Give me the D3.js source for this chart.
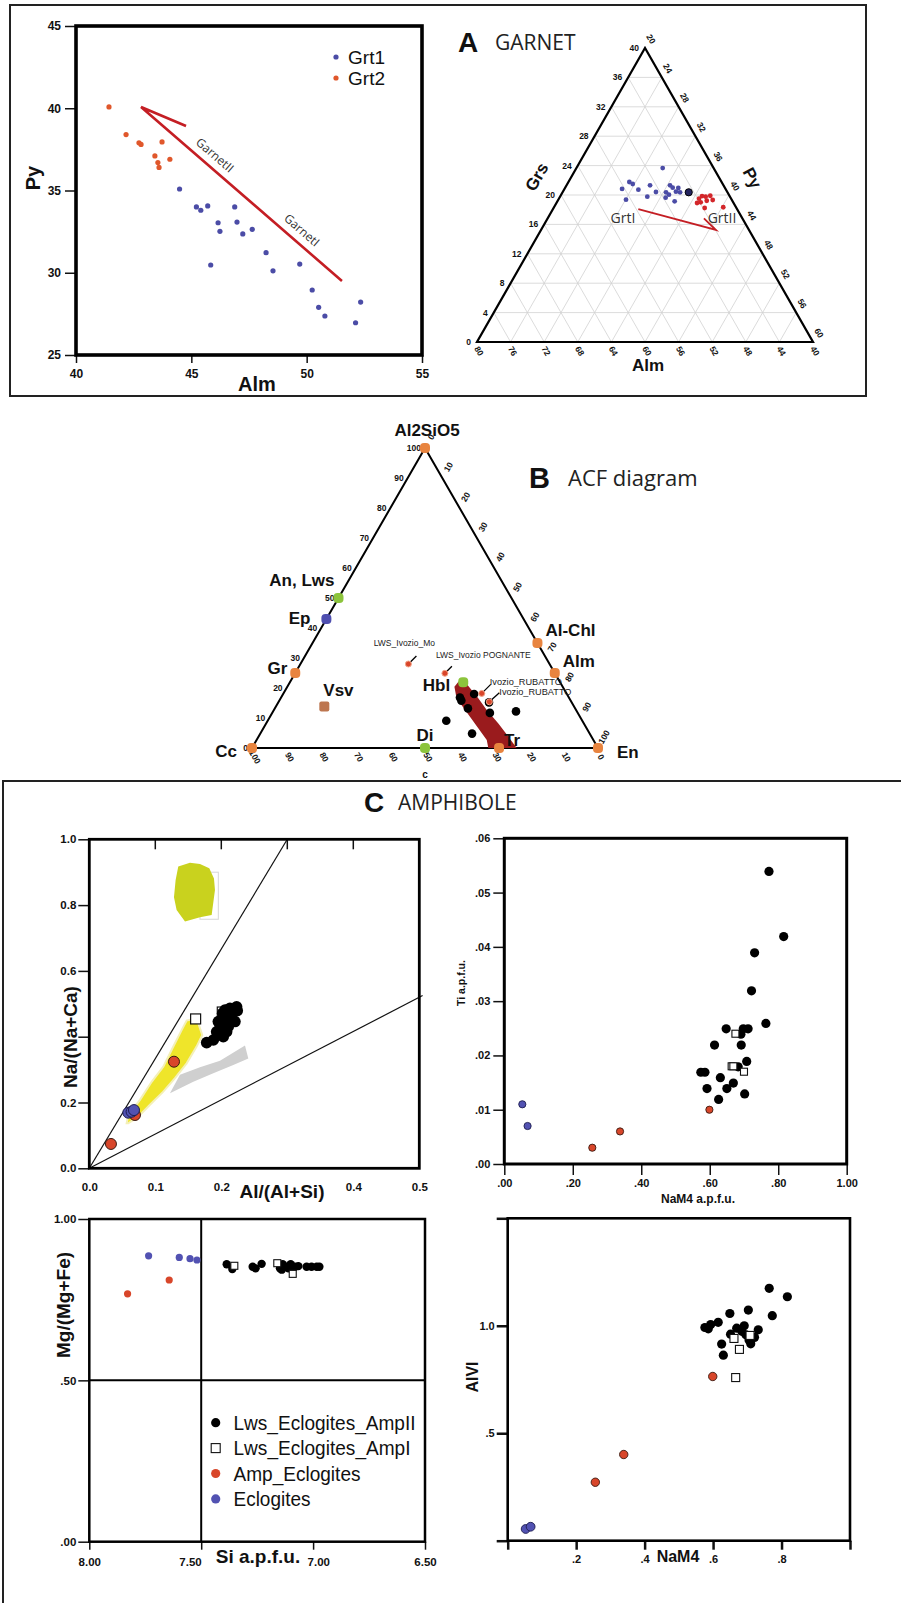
<!DOCTYPE html>
<html><head><meta charset="utf-8">
<script src="https://cdn.jsdelivr.net/npm/d3@7"></script>
<style>body{margin:0;background:#fff}svg{display:block}</style>
</head><body>
<script>
// ---------- DATA ----------
// Panel A left: Alm vs Py
const grt1 = [[44.49,35.09],[45.22,34.0],[45.41,33.8],[45.71,34.06],[45.84,30.47],[46.16,33.04],[46.24,32.52],[46.88,34.0],[46.98,33.08],[47.23,32.36],[47.64,32.64],[48.24,31.22],[48.54,30.12],[49.7,30.53],[50.24,28.95],[50.52,27.9],[50.79,27.37],[52.12,26.96],[52.34,28.22]];
const grt2 = [[41.43,40.08],[42.17,38.4],[42.73,37.9],[42.82,37.8],[43.73,37.95],[43.42,37.1],[43.55,36.7],[43.6,36.4],[44.07,36.9]];
const trendLine = [[51.53,29.5],[42.82,40.08],[44.77,38.92]];
const trendLabels = ["GarnetII","GarnetI"];
const trendLabelAt = [[46.03,37.16],[49.8,32.6]];
const garnetXTicks = [40,45,50,55];
const garnetYTicks = [25,30,35,40,45];
const garnetLegend = ["Grt1","Grt2"];
// Panel A ternary: [Grs, Py]  (Alm = 100 - Grs - Py)
const ternGrt1 = [[20.82,26.86],[21.77,27.25],[21.5,27.79],[20.72,28.85],[19.36,28.06],[21.32,29.94],[20.41,31.1],[19.77,30.39],[23.67,30.27],[21.32,32.32],[20.99,32.8],[20.95,33.49],[20.37,32.32],[20.04,32.83],[19.63,32.64],[20.37,33.99],[19.14,33.96],[20.45,33.46]];
const ternMean = [[20.37,35.02]];
const ternGrt2 = [[19.5,36.68],[19.0,37.13],[19.77,37.34],[19.22,37.74],[19.9,37.82],[19.32,38.4],[18.23,37.99],[18.33,40.15],[18.91,36.74],[19.86,36.86]];
const ternArrow = [[18.09,30.16],[15.24,40.83],[16.83,38.6]];
const ternLabels = [["GrtI",16.87,28.94],["GrtII",16.87,40.73]];
const grsTicks = [0,4,8,12,16,20,24,28,32,36,40];
const pyTicks = [20,24,28,32,36,40,44,48,52,56,60];
const almTicks = [80,76,72,68,64,60,56,52,48,44,40];
// Panel B ACF: [label, A, F, colour key]
const acfMinerals = [["Al2SiO5",100,0,"o"],["An, Lws",50,0,"g"],["Ep",43,0,"b"],["Gr",25,0,"o"],["Vsv",13.8,14,"br"],["Cc",0,0,"o"],["Di",0,50,"g"],["Tr",0,71.4,"o"],["En",0,100,"o"],["Al-Chl",35,65,"o"],["Alm",25,75,"o"],["Hbl",21.9,50.1,"g"]];
const acfSamples = [["LWS_Ivozio_Mo",28,31.2],["LWS_Ivozio POGNANTE",24.9,43.3],["Ivozio_RUBATTO",18.2,57.3],["Ivozio_RUBATTO",15.4,60.9]];
const acfBlack = [[18.0,55.2],[16.8,51.7],[15.8,52.6],[13.2,55.8],[15.2,60.9],[11.7,62.9],[12.2,70.2],[9.1,51.6],[4.8,61.2]];
const acfBand = [[20.4,48.3],[22.1,48.6],[22.1,50.5],[19.9,53.1],[16.6,57.1],[12.7,61.5],[8.2,67.1],[4.3,71.6],[0,76.5],[0,68.3],[2.7,66.5],[6.6,62.1],[10.4,57.8],[14.3,53.4],[17.7,50.1]];
const acfTicks = [0,10,20,30,40,50,60,70,80,90,100];
// Panel C1: Al/(Al+Si) vs Na/(Na+Ca)
const c1Black = [[.1778,.382],[.1879,.390],[.1955,.446],[.198,.4255],[.2005,.410],[.202,.471],[.2056,.481],[.2081,.451],[.2106,.431],[.2131,.471],[.2157,.456],[.2182,.481],[.2207,.446],[.2232,.491],[.2242,.479],[.203,.400],[.1929,.415],[.2081,.415],[.2131,.486],[.198,.446]];
const c1Open = [[.1611,.454],[.2015,.475]];
const c1Red = [[.0328,.074],[.1283,.324],[.0692,.162]];
const c1Blue = [[.0591,.169],[.0641,.172],[.0677,.177]];
const c1Green = [[.1348,.917],[.1525,.929],[.1677,.925],[.1818,.912],[.1889,.881],[.1904,.846],[.1854,.770],[.1677,.763],[.145,.750],[.1323,.785],[.1283,.824],[.1308,.876]];
const c1GreenBox = [[.1677,.900],[.1955,.757]];
const c1Yellow = [[.0566,.137],[.0591,.162],[.0768,.208],[.0945,.263],[.1121,.309],[.1273,.370],[.1399,.420],[.1475,.449],[.1626,.456],[.1712,.405],[.1626,.370],[.1475,.319],[.1298,.274],[.1121,.233],[.0919,.193],[.0742,.157],[.0591,.137]];
const c1Gray = [[.1222,.228],[.1374,.284],[.1677,.307],[.198,.327],[.2359,.373],[.2409,.334],[.2182,.314],[.1879,.289],[.1576,.263],[.1323,.238]];
const c1Lines = [[[0,0],[0.3,1.0]],[[0,0],[0.505,0.525]]];
const c1XTicks = [0,0.1,0.2,0.3,0.4,0.5], c1XLabels = ["0.0","0.1","0.2","","0.4","0.5"];
const c1YTicks = [0,0.2,0.4,0.6,0.8,1.0], c1YLabels = ["0.0","0.2","","0.6","0.8","1.0"];
// Panel C2: NaM4 vs Ti
const c2Black = [[.773,.0539],[.816,.0419],[.731,.0389],[.722,.0319],[.764,.0259],[.648,.0249],[.698,.0249],[.712,.0249],[.691,.0239],[.614,.0219],[.692,.0219],[.574,.0169],[.586,.0169],[.708,.0189],[.683,.0179],[.631,.0159],[.592,.0139],[.650,.0139],[.669,.0149],[.626,.0119],[.702,.0129]];
const c2Open = [[.675,.024],[.664,.018],[.669,.018],[.700,.017]];
const c2Red = [[.257,.003],[.338,.006],[.599,.010]];
const c2Blue = [[.0526,.011],[.068,.007]];
const c2XTicks = [0,.2,.4,.6,.8,1], c2XLabels = [".00",".20",".40",".60",".80","1.00"];
const c2YTicks = [0,.01,.02,.03,.04,.05,.06], c2YLabels = [".00",".01",".02",".03",".04",".05",".06"];
// Panel C3: Si vs Mg/(Mg+Fe)
const c3Black = [[7.386,.860],[7.361,.845],[7.27,.852],[7.257,.847],[7.23,.861],[7.148,.847],[7.136,.860],[7.118,.852],[7.1,.860],[7.081,.852],[7.066,.854],[7.029,.852],[7.007,.852],[6.984,.852],[6.972,.852],[7.14,.843],[7.11,.847],[7.09,.847]];
const c3Open = [[7.352,.855],[7.16,.863],[7.091,.830]];
const c3Red = [[7.829,.768],[7.643,.811]];
const c3Blue = [[7.735,.886],[7.598,.881],[7.55,.877],[7.519,.873]];
const c3XTicks = [8,7.5,7,6.5], c3XLabels = ["8.00","7.50","7.00","6.50"];
const c3YTicks = [0,.5,1], c3YLabels = [".00",".50","1.00"];
const ampLegend = ["Lws_Eclogites_AmpII","Lws_Eclogites_AmpI","Amp_Eclogites","Eclogites"];
// Panel C4: NaM4 vs AlVI
const c4Black = [[.764,1.174],[.817,1.135],[.703,1.073],[.649,1.057],[.773,1.047],[.615,1.016],[.593,1.006],[.576,.992],[.586,.986],[.669,.989],[.691,1.0],[.732,.981],[.684,.974],[.651,.961],[.696,.958],[.721,.946],[.705,.934],[.710,.916],[.625,.915],[.630,.863]];
const c4Open = [[.666,.759],[.677,.890],[.661,.941],[.708,.955]];
const c4Red = [[.256,.272],[.339,.401],[.599,.764]];
const c4Blue = [[.0525,.0545],[.067,.065]];
const c4XTicks = [0,.2,.4,.6,.8,1], c4XLabels = ["",".2",".4",".6",".8",""];
const c4YTicks = [0,.5,1,1.5], c4YLabels = ["",".5","1.0",""];

// ---------- STYLE ----------
const SANS = '"Liberation Sans", Arial, Helvetica, sans-serif';
const OPEN = '"Open Sans", "Liberation Sans", sans-serif';
const COL = {blueA:"#4b4ca6", orangeA:"#e0572b", redT:"#d3262a", line:"#c41e24",
  o:"#e8843f", g:"#8cc43c", b:"#4f4fb0", br:"#bd7650", band:"#9a1b1d",
  ampRed:"#d8462a", ampBlue:"#5252b2"};

const svg = d3.select("body").append("svg").attr("width",901).attr("height",1603);

function txt(g,x,y,s,o={}){
  const t=g.append("text").attr("x",x).attr("y",y).text(s)
    .attr("font-family",o.ff||SANS).attr("font-size",o.fs||12)
    .attr("font-weight",o.fw||"normal").attr("fill",o.fill||"#111")
    .attr("text-anchor",o.anchor||"start");
  if(o.rot!=null) t.attr("transform",`rotate(${o.rot},${x},${y})`);
  if(o.db) t.attr("dominant-baseline",o.db);
  if(o.len) t.attr("textLength",o.len).attr("lengthAdjust","spacingAndGlyphs");
  return t;
}
function styleAxis(g,fs,sw){
  g.select(".domain").remove();
  g.selectAll(".tick line").attr("stroke","#111").attr("stroke-width",sw||1.5);
  g.selectAll(".tick text").attr("font-family",SANS).attr("font-size",fs).attr("font-weight","bold").attr("fill","#111");
}
function dots(g,data,xs,ys,r,fill,stroke,sw){
  g.selectAll(null).data(data).join("circle")
    .attr("cx",d=>xs(d[0])).attr("cy",d=>ys(d[1])).attr("r",r)
    .attr("fill",fill).attr("stroke",stroke||"none").attr("stroke-width",sw||0);
}
function squares(g,data,xs,ys,s,sw){
  g.selectAll(null).data(data).join("rect")
    .attr("x",d=>xs(d[0])-s/2).attr("y",d=>ys(d[1])-s/2).attr("width",s).attr("height",s)
    .attr("fill","#fff").attr("stroke","#111").attr("stroke-width",sw||1.1);
}

// ---------- SECTION FRAMES ----------
svg.append("rect").attr("x",10).attr("y",5).attr("width",856).attr("height",391)
  .attr("fill","none").attr("stroke","#222").attr("stroke-width",2);
svg.append("path").attr("d","M3,1610 V781 H910").attr("fill","none").attr("stroke","#222").attr("stroke-width",2);

// ---------- PANEL A: scatter ----------
{
  const ax=d3.scaleLinear().domain([40,55]).range([76,422]);
  const ay=d3.scaleLinear().domain([25,45]).range([355,26]);
  const g=svg.append("g");
  g.append("g").attr("transform",`translate(${ax(40)},0)`)
    .call(d3.axisLeft(ay).tickValues(garnetYTicks).tickSize(11).tickPadding(4)).call(a=>styleAxis(a,12,1.5));
  g.append("g").attr("transform",`translate(0,${ay(25)})`)
    .call(d3.axisBottom(ax).tickValues(garnetXTicks).tickSize(8).tickPadding(6)).call(a=>styleAxis(a,12,1.5));
  g.append("path").attr("d",d3.line().x(d=>ax(d[0])).y(d=>ay(d[1]))(trendLine))
    .attr("fill","none").attr("stroke",COL.line).attr("stroke-width",2.6).attr("stroke-linejoin","miter");
  const ang=Math.atan2(ay(trendLine[0][1])-ay(trendLine[1][1]),ax(trendLine[0][0])-ax(trendLine[1][0]))*180/Math.PI;
  trendLabels.forEach((s,i)=>txt(g,ax(trendLabelAt[i][0]),ay(trendLabelAt[i][1]),s,{ff:OPEN,fs:12,anchor:"middle",db:"central",rot:ang,fill:"#333"}));
  dots(g,grt2,ax,ay,2.6,COL.orangeA);
  dots(g,grt1,ax,ay,2.6,COL.blueA);
  g.append("rect").attr("x",ax(40)).attr("y",ay(45)).attr("width",ax(55)-ax(40)).attr("height",ay(25)-ay(45))
    .attr("fill","none").attr("stroke","#000").attr("stroke-width",3.6);
  [COL.blueA,COL.orangeA].forEach((c,i)=>{
    g.append("circle").attr("cx",336).attr("cy",57+i*21).attr("r",2.6).attr("fill",c);
    txt(g,348,64+i*21,garnetLegend[i],{fs:19,len:37});
  });
  txt(g,40,178,"Py",{fs:20,fw:"bold",anchor:"middle",rot:-90});
  txt(g,257,391,"Alm",{fs:20,fw:"bold",anchor:"middle"});
}

// ---------- PANEL A: ternary ----------
{
  const gx=d3.scaleLinear().domain([0,1]).range([477,813]);
  const gy=d3.scaleLinear().domain([0,1]).range([342,48]);
  const P=(grs,py)=>{const wa=grs/40, wr=(py-20)/40; return [gx(wr+wa/2),gy(wa)];};
  const g=svg.append("g");
  const grid=g.append("g").attr("stroke","#d2d2d2").attr("stroke-width",0.8);
  for(let k=1;k<10;k++){
    const v=4*k;
    [[P(v,20),P(v,60-v)],[P(0,20+v),P(40-v,20+v)],[P(0,60-v),P(40-v,20)]].forEach(s=>
      grid.append("line").attr("x1",s[0][0]).attr("y1",s[0][1]).attr("x2",s[1][0]).attr("y2",s[1][1]));
  }
  const tri=[P(0,20),P(0,60),P(40,20)];
  g.append("path").attr("d","M"+tri.join("L")+"Z").attr("fill","none").attr("stroke","#000").attr("stroke-width",2.2);
  grsTicks.forEach(v=>{const p=P(v,20); txt(g,p[0]-6,p[1]+3,v,{fs:8.5,fw:"bold",anchor:"end"});});
  pyTicks.forEach(v=>{const p=P(60-v,v); txt(g,p[0]+6,p[1]-9,v,{fs:8.5,fw:"bold",anchor:"middle",db:"central",rot:60});});
  almTicks.forEach(v=>{const p=P(0,100-v); txt(g,p[0]+2,p[1]+9,v,{fs:8.5,fw:"bold",anchor:"middle",db:"central",rot:60});});
  g.append("path").attr("d",d3.line().x(d=>P(d[0],d[1])[0]).y(d=>P(d[0],d[1])[1])(ternArrow))
    .attr("fill","none").attr("stroke",COL.line).attr("stroke-width",1.8);
  const gxs=d=>P(d[0],d[1])[0], gys=d=>P(d[0],d[1])[1];
  g.selectAll(null).data(ternGrt1).join("circle").attr("cx",gxs).attr("cy",gys).attr("r",2.4).attr("fill",COL.blueA);
  g.selectAll(null).data(ternGrt2).join("circle").attr("cx",gxs).attr("cy",gys).attr("r",2.4).attr("fill",COL.redT);
  g.selectAll(null).data(ternMean).join("circle").attr("cx",gxs).attr("cy",gys).attr("r",3.6).attr("fill","#23235e").attr("stroke","#000").attr("stroke-width",1);
  ternLabels.forEach(l=>{const p=P(l[1],l[2]); txt(g,p[0],p[1]+5,l[0],{ff:OPEN,fs:14,anchor:"middle",fill:"#333"});});
  txt(g,537,177,"Grs",{fs:17,fw:"bold",anchor:"middle",db:"central",rot:-60});
  txt(g,752,178,"Py",{fs:17,fw:"bold",anchor:"middle",db:"central",rot:62});
  txt(g,648,371,"Alm",{fs:17,fw:"bold",anchor:"middle"});
  txt(g,458,52,"A",{fs:28,fw:"bold"});
  txt(g,495,50,"GARNET",{ff:OPEN,fs:21,fill:"#222"});
}

// ---------- PANEL B: ACF ----------
{
  const bx=d3.scaleLinear().domain([0,1]).range([252,598]);
  const by=d3.scaleLinear().domain([0,1]).range([748,448]);
  const P=(A,F)=>[bx(F/100+A/200),by(A/100)];
  const g=svg.append("g");
  const tri=[P(0,0),P(0,100),P(100,0)];
  g.append("path").attr("d","M"+tri.join("L")+"Z").attr("fill","none").attr("stroke","#000").attr("stroke-width",2);
  acfTicks.forEach(v=>{
    let p=P(v,0); txt(g,p[0]-4,p[1]+3,v,{fs:8.5,fw:"bold",anchor:"end"});
    p=P(100-v,v); txt(g,p[0]+6,p[1]-11,v,{fs:8.5,fw:"bold",anchor:"middle",db:"central",rot:-60});
    p=P(0,100-v); txt(g,p[0]+3,p[1]+9,v,{fs:8.5,fw:"bold",anchor:"middle",db:"central",rot:60});
  });
  txt(g,425,778,"c",{fs:10,fw:"bold",anchor:"middle"});
  g.append("path").attr("d","M"+acfBand.map(d=>P(d[0],d[1])).join("L")+"Z").attr("fill",COL.band);
  g.selectAll(null).data(acfBlack).join("circle").attr("cx",d=>P(d[0],d[1])[0]).attr("cy",d=>P(d[0],d[1])[1]).attr("r",4.3).attr("fill","#000");
  const labPos={"Al2SiO5":[2,-12,"middle"],"An, Lws":[-4,-12,"end"],"Ep":[-16,5,"end"],"Gr":[-8,1,"end"],"Vsv":[-1,-11,"start"],
    "Cc":[-15,9,"end"],"Di":[0,-7,"middle"],"Tr":[5,-2,"start"],"En":[19,10,"start"],"Al-Chl":[8,-7,"start"],"Alm":[8,-6,"start"],"Hbl":[-13,9,"end"]};
  acfMinerals.forEach(m=>{
    const p=P(m[1],m[2]);
    g.append("rect").attr("x",p[0]-5).attr("y",p[1]-5).attr("width",10).attr("height",10).attr("rx",m[3]==="br"?2:4)
      .attr("fill",COL[m[3]]);
    const l=labPos[m[0]];
    txt(g,p[0]+l[0],p[1]+l[1],m[0],{fs:17,fw:"bold",anchor:l[2]});
  });
  const sampLab=[[8,-8,-4,-18],[7,-7,-9,-15],[9,-9,8,-8],[10,-9,10,-7]];
  acfSamples.forEach((s,i)=>{
    const p=P(s[1],s[2]); const o=sampLab[i];
    g.append("line").attr("x1",p[0]).attr("y1",p[1]).attr("x2",p[0]+o[0]).attr("y2",p[1]+o[1]).attr("stroke","#000").attr("stroke-width",1.3);
    g.append("circle").attr("cx",p[0]).attr("cy",p[1]).attr("r",3).attr("fill","#d9452a").attr("stroke","#f2a68a").attr("stroke-width",1);
    txt(g,p[0]+o[2],p[1]+o[3],s[0],{fs:i<2?8.5:9.2,anchor:i===0?"middle":"start",fill:"#222"});
  });
  txt(g,529,488,"B",{fs:29,fw:"bold"});
  txt(g,568,486,"ACF diagram",{ff:OPEN,fs:22,fill:"#222"});
}

// ---------- PANEL C ----------
txt(svg,364,812,"C",{fs:28,fw:"bold"});
txt(svg,398,810,"AMPHIBOLE",{ff:OPEN,fs:21,fill:"#222"});

// C1
{
  const x=d3.scaleLinear().domain([0,0.5]).range([89.3,419.3]);
  const y=d3.scaleLinear().domain([0,1]).range([1168.3,839.3]);
  const g=svg.append("g");
  c1Lines.forEach(l=>g.append("line").attr("x1",x(l[0][0])).attr("y1",y(l[0][1])).attr("x2",x(l[1][0])).attr("y2",y(l[1][1])).attr("stroke","#111").attr("stroke-width",1.2));
  const poly=d=>"M"+d.map(p=>[x(p[0]),y(p[1])]).join("L")+"Z";
  g.append("rect").attr("x",x(c1GreenBox[0][0])).attr("y",y(c1GreenBox[0][1])).attr("width",x(c1GreenBox[1][0])-x(c1GreenBox[0][0])).attr("height",y(c1GreenBox[1][1])-y(c1GreenBox[0][1]))
    .attr("fill","none").attr("stroke","#d6d6d6").attr("stroke-width",1);
  g.append("path").attr("d",poly(c1Green)).attr("fill","#c9d21e");
  g.append("path").attr("d",poly(c1Yellow)).attr("fill","#efe52a").attr("stroke","#f4f0b8").attr("stroke-width",2);
  g.append("path").attr("d",poly(c1Gray)).attr("fill","#cfcfcf");
  dots(g,c1Red,x,y,5.5,COL.ampRed,"#3a1a10",1);
  dots(g,c1Blue,x,y,5.5,COL.ampBlue,"#1e1e50",1);
  squares(g,c1Open,x,y,10,1.2);
  dots(g,c1Black,x,y,5.8,"#000");
  [0.1,0.2,0.3,0.4].forEach(v=>g.append("line").attr("x1",x(v)).attr("x2",x(v)).attr("y1",y(1)).attr("y2",y(1)+10).attr("stroke","#111").attr("stroke-width",1.5));
  g.append("g").attr("transform",`translate(${x(0)},0)`)
    .call(d3.axisLeft(y).tickValues(c1YTicks).tickFormat((d,i)=>c1YLabels[i]).tickSize(11).tickPadding(2)).call(a=>styleAxis(a,11.5,1.5));
  g.append("g").attr("transform",`translate(0,${y(0)})`)
    .call(d3.axisBottom(x).tickValues(c1XTicks).tickFormat((d,i)=>c1XLabels[i]).tickSize(0).tickPadding(15)).call(a=>styleAxis(a,11.5,1.5));
  g.append("rect").attr("x",x(0)).attr("y",y(1)).attr("width",x(0.5)-x(0)).attr("height",y(0)-y(1))
    .attr("fill","none").attr("stroke","#000").attr("stroke-width",2.8);
  txt(g,77,1037,"Na/(Na+Ca)",{fs:19,fw:"bold",anchor:"middle",rot:-90});
  txt(g,282,1198,"Al/(Al+Si)",{fs:19,fw:"bold",anchor:"middle"});
}

// C2
{
  const x=d3.scaleLinear().domain([0,1]).range([504.3,846.7]);
  const y=d3.scaleLinear().domain([0,0.06]).range([1164,838.3]);
  const g=svg.append("g");
  g.append("g").attr("transform",`translate(${x(0)},0)`)
    .call(d3.axisLeft(y).tickValues(c2YTicks).tickFormat((d,i)=>c2YLabels[i]).tickSize(11).tickPadding(3)).call(a=>styleAxis(a,11,1.5));
  g.append("g").attr("transform",`translate(0,${y(0)})`)
    .call(d3.axisBottom(x).tickValues(c2XTicks).tickFormat((d,i)=>c2XLabels[i]).tickSize(11).tickPadding(4)).call(a=>styleAxis(a,11,1.5));
  dots(g,c2Blue,x,y,3.6,COL.ampBlue,"#1e1e50",0.9);
  dots(g,c2Red,x,y,3.6,COL.ampRed,"#3a1a10",0.9);
  dots(g,c2Black,x,y,4.6,"#000");
  squares(g,c2Open,x,y,7,1.1);
  g.append("rect").attr("x",x(0)).attr("y",y(0.06)).attr("width",x(1)-x(0)).attr("height",y(0)-y(0.06))
    .attr("fill","none").attr("stroke","#000").attr("stroke-width",3);
  txt(g,465,983,"Ti a.p.f.u.",{fs:10.5,fw:"bold",anchor:"middle",rot:-90});
  txt(g,698,1203,"NaM4 a.p.f.u.",{fs:12,fw:"bold",anchor:"middle"});
}

// C3
{
  const x=d3.scaleLinear().domain([8,6.5]).range([89.3,425]);
  const y=d3.scaleLinear().domain([0,1]).range([1541.7,1219]);
  const g=svg.append("g");
  g.append("line").attr("x1",x(7.5)).attr("x2",x(7.5)).attr("y1",y(1)).attr("y2",y(0)).attr("stroke","#000").attr("stroke-width",2);
  g.append("line").attr("x1",x(8)).attr("x2",x(6.5)).attr("y1",y(0.5)).attr("y2",y(0.5)).attr("stroke","#000").attr("stroke-width",2);
  g.append("g").attr("transform",`translate(${x(8)},0)`)
    .call(d3.axisLeft(y).tickValues(c3YTicks).tickFormat((d,i)=>c3YLabels[i]).tickSize(11).tickPadding(2)).call(a=>styleAxis(a,11.5,1.5));
  const xa=g.append("g").attr("transform",`translate(0,${y(0)})`)
    .call(d3.axisBottom(x).tickValues(c3XTicks).tickFormat((d,i)=>c3XLabels[i]).tickSize(8).tickPadding(8)).call(a=>styleAxis(a,11.5,1.5));
  xa.selectAll(".tick text").each(function(d){
    if(d===7.5) d3.select(this).attr("text-anchor","end").attr("x",0);
    if(d===7) d3.select(this).attr("text-anchor","start").attr("x",-6);
  });
  dots(g,c3Blue,x,y,3.6,COL.ampBlue);
  dots(g,c3Red,x,y,3.6,COL.ampRed);
  dots(g,c3Black,x,y,4.2,"#000");
  squares(g,c3Open,x,y,7,1.1);
  g.append("rect").attr("x",x(8)).attr("y",y(1)).attr("width",x(6.5)-x(8)).attr("height",y(0)-y(1))
    .attr("fill","none").attr("stroke","#000").attr("stroke-width",2.5);
  txt(g,70,1305,"Mg/(Mg+Fe)",{fs:19,fw:"bold",anchor:"middle",rot:-90});
  txt(g,258,1563,"Si a.p.f.u.",{fs:19,fw:"bold",anchor:"middle"});
  const legW=[182,177,127,77];
  ampLegend.forEach((s,i)=>{
    const cy=1422.7+i*25.4;
    if(i===1) g.append("rect").attr("x",211.2).attr("y",cy-4.5).attr("width",9).attr("height",9).attr("fill","#fff").attr("stroke","#111").attr("stroke-width",1.1);
    else g.append("circle").attr("cx",215.7).attr("cy",cy).attr("r",4.6).attr("fill",[ "#000",null,COL.ampRed,COL.ampBlue][i]);
    txt(g,233.5,cy+7,s,{fs:19.5,fill:"#111",len:legW[i]});
  });
}

// C4
{
  const x=d3.scaleLinear().domain([0,1]).range([507.7,850]);
  const y=d3.scaleLinear().domain([0,1.5]).range([1540.7,1218.3]);
  const g=svg.append("g");
  g.append("g").attr("transform",`translate(${x(0)},0)`)
    .call(d3.axisLeft(y).tickValues(c4YTicks).tickFormat((d,i)=>c4YLabels[i]).tickSize(11).tickPadding(2)).call(a=>styleAxis(a,11,2.5));
  g.append("g").attr("transform",`translate(0,${y(0)})`)
    .call(d3.axisBottom(x).tickValues(c4XTicks).tickFormat((d,i)=>c4XLabels[i]).tickSize(9).tickPadding(6)).call(a=>styleAxis(a,11,2.5));
  dots(g,c4Blue,x,y,4.4,COL.ampBlue,"#1e1e50",0.9);
  dots(g,c4Red,x,y,4.2,COL.ampRed,"#3a1a10",0.9);
  dots(g,c4Black,x,y,4.6,"#000");
  squares(g,c4Open,x,y,8,1.1);
  g.append("rect").attr("x",x(0)).attr("y",y(1.5)).attr("width",x(1)-x(0)).attr("height",y(0)-y(1.5))
    .attr("fill","none").attr("stroke","#000").attr("stroke-width",2.6);
  txt(g,478,1377,"AlVI",{fs:16,fw:"bold",anchor:"middle",rot:-90});
  txt(g,678,1562,"NaM4",{fs:16,fw:"bold",anchor:"middle"});
}
</script>
</body></html>
